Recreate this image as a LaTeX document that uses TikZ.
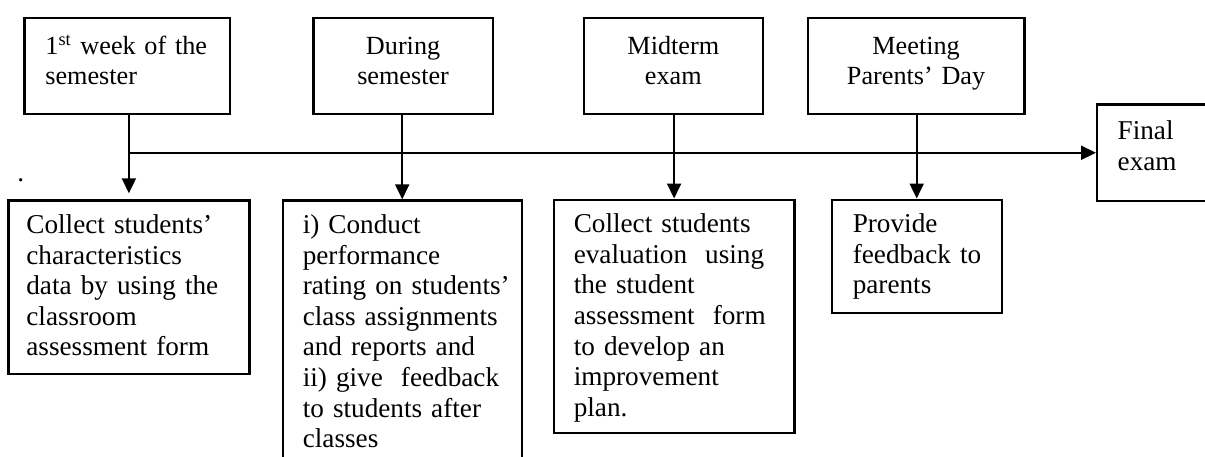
\documentclass[tikz,border=0pt]{standalone}
\usepackage{fontspec}
\setmainfont{Liberation Serif}
\usetikzlibrary{arrows.meta}

\newcommand{\planfont}{\fontsize{13.6pt}{15.3pt}\selectfont}
\newcommand{\eventfont}{\fontsize{13.1pt}{15pt}\selectfont}

\tikzset{
    event/.style={draw, line width=1.1pt, anchor=north west, inner sep=0pt,
                  font=\eventfont, align=center, text height=18.3pt, text depth=29.7pt},
    task/.style={draw, line width=1.1pt, anchor=north west, inner sep=0pt,
                 font=\planfont, align=left, text height=16.5pt,
                 execute at begin node={\leftskip=#1\relax}},
    task/.default=10pt,
    link/.style={line width=1pt, -{Triangle[length=7.5pt, width=7pt]}}
}

\begin{document}
\begin{tikzpicture}[x=0.5pt, y=-0.5pt]
    \clip[use as bounding box] (0, 0) rectangle (1205, 456);

    \node[event, task=10.5pt, font=\eventfont, text height=18.3pt, text depth=29.7pt, text width=102.9pt] (week) at (23.3, 16.7)
        {1\textsuperscript{st} week of the\\semester};
    \node[event, text width=89.7pt] (during) at (312.3, 16.7) {During\\semester};
    \node[event, text width=89.5pt] (midterm) at (582.7, 16.7) {Midterm\\exam};
    \node[event, text width=108.3pt] (meeting) at (806.7, 16.7) {Meeting\\Parents' Day};
    \node[task=10.3pt, text width=62pt, text height=17.5pt, text depth=30.85pt] (final) at (1096, 103.3)
        {Final\\exam};

    \node[task=9pt, text width=120.5pt, text depth=70.2pt] (collect) at (7.3, 199.3)
        {Collect students'\\characteristics\\data by using the\\classroom\\assessment form};
    \node[task, text width=119.4pt, text depth=118.85pt] (rating) at (281.7, 199.3)
        {i) Conduct\\performance\\rating on students'\\class assignments\\and reports and\\ii) give\ \ feedback\\to students after\\classes};
    \node[task, text width=120.3pt, text depth=100.1pt] (evaluation) at (552.7, 198.5)
        {Collect students\\evaluation\ \ using\\the student\\assessment\ \ form\\to develop an\\improvement\\plan.};
    \node[task=10.5pt, text width=84.9pt, text depth=40pt] (feedback) at (830.7, 198.5)
        {Provide\\feedback to\\parents};

    \node[font=\planfont] (dot) at (20.7, 180) {.};

    \draw[link] (collect.north |- final.west) -- (final.west);
    \draw[link, shorten >=3pt] (collect.north |- week.south) -- (collect.north);
    \draw[link] (rating.north |- during.south) -- (rating.north);
    \draw[link] (evaluation.north |- midterm.south) -- (evaluation.north);
    \draw[link] (feedback.north |- meeting.south) -- (feedback.north);
\end{tikzpicture}
\end{document}
